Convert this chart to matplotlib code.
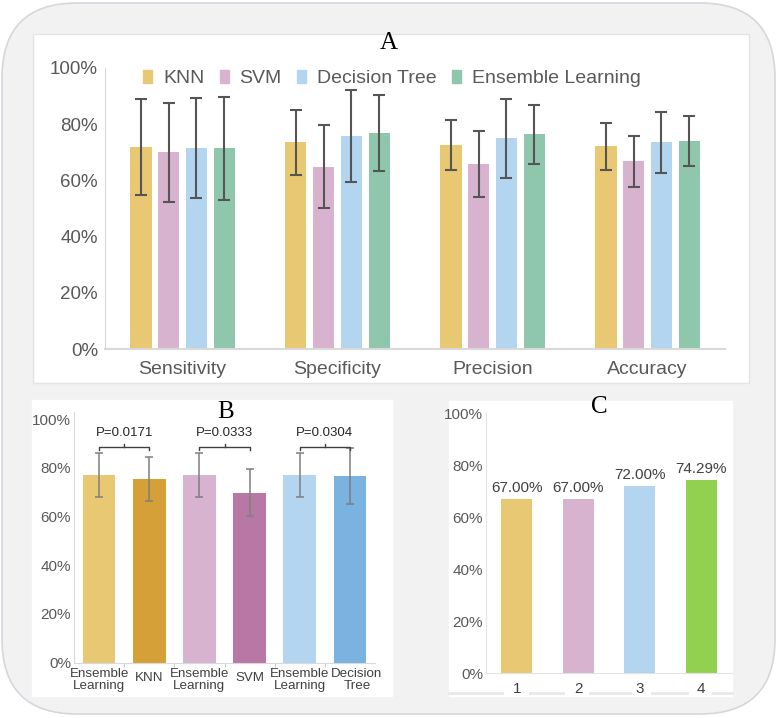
import numpy as np
import matplotlib
matplotlib.use('Agg')
import matplotlib.pyplot as plt
from matplotlib.patches import FancyBboxPatch, Rectangle, Patch
from matplotlib.lines import Line2D
from matplotlib.transforms import IdentityTransform
from matplotlib.ticker import PercentFormatter

W, H = 778, 718

# ---- panel A data ----
metrics = ['Sensitivity', 'Specificity', 'Precision', 'Accuracy']
models = ['KNN', 'SVM', 'Decision Tree', 'Ensemble Learning']
knn_mean = [71.9, 73.5, 72.6, 72.1]
svm_mean = [70.0, 64.9, 65.8, 66.8]
dt_mean = [71.4, 75.9, 75.0, 73.5]
el_mean = [71.4, 76.9, 76.4, 74.0]
knn_err = [17.0, 11.6, 8.8, 8.4]
svm_err = [17.7, 14.7, 11.7, 9.0]
dt_err = [17.8, 16.3, 14.0, 10.9]
el_err = [18.2, 13.6, 10.5, 8.9]

# ---- panel B data ----
b_labels = ['Ensemble\nLearning', 'KNN', 'Ensemble\nLearning', 'SVM', 'Ensemble\nLearning', 'Decision\nTree']
b_mean = [76.9, 75.4, 76.9, 69.8, 76.9, 76.6]
b_err = [9.1, 9.0, 9.1, 9.5, 9.1, 11.5]
p_values = ['P=0.0171', 'P=0.0333', 'P=0.0304']

# ---- panel C data ----
c_labels = ['1', '2', '3', '4']
c_values = [67.00, 67.00, 72.00, 74.29]

col_knn = '#E8C872'
col_svm = '#D8B3CF'
col_dt = '#B3D5F0'
col_el = '#8FC7AD'
tick_col = '#595959'


def fx(px):
    return px / W


def fy(py):
    return 1 - py / H


def axes_rect(left, right, top, bottom):
    return [fx(left), fy(bottom), (right - left) / W, (bottom - top) / H]


fig = plt.figure(figsize=(W / 100, H / 100), dpi=100)
plt.rcParams['font.family'] = ['Liberation Sans', 'DejaVu Sans']

# outer rounded background (pixel coords, origin bottom-left)
bg = FancyBboxPatch((2, 4), W - 5, H - 7, boxstyle='round,pad=0,rounding_size=75',
                    transform=IdentityTransform(), facecolor='#F2F2F2',
                    edgecolor='#D3D8DD', linewidth=1.2, zorder=-3)
fig.patches.append(bg)

# white panel boxes
for (l, t, r, b, ec) in [(33, 34, 749, 383, '#E3E3E3'), (32, 400, 392, 696, 'white'),
                         (449, 401, 732, 696, 'white')]:
    fig.patches.append(Rectangle((fx(l), fy(b)), (r - l) / W, (b - t) / H,
                                 transform=fig.transFigure, facecolor='white',
                                 edgecolor=ec, linewidth=1, zorder=-2))

# ================= Panel A =================
axA = fig.add_axes(axes_rect(105, 725, 68, 349))
axA.patch.set_alpha(0)
x = np.arange(len(metrics))
series = [(knn_mean, knn_err, col_knn), (svm_mean, svm_err, col_svm),
          (dt_mean, dt_err, col_dt), (el_mean, el_err, col_el)]
for i, (m, e, c) in enumerate(series):
    axA.bar(x + (i - 1.5) * 0.18, m, 0.14, yerr=e, color=c, label=models[i],
            error_kw=dict(ecolor='#555555', elinewidth=1.5, capsize=4, capthick=1.5))
axA.set_xlim(-0.5, 3.5)
axA.set_ylim(0, 100)
axA.set_yticks(np.arange(0, 101, 20))
axA.yaxis.set_major_formatter(PercentFormatter(decimals=0))
axA.set_xticks(x)
axA.set_xticklabels(metrics, fontsize=14, color=tick_col)
axA.tick_params(axis='y', labelsize=13.5, labelcolor=tick_col, length=0, pad=5)
axA.tick_params(axis='x', length=0, pad=9)
for s in ['top', 'right']:
    axA.spines[s].set_visible(False)
axA.spines['left'].set_color('#D9D9D9')
axA.spines['bottom'].set_color('#D9D9D9')
axA.spines['bottom'].set_linewidth(1.5)
handles = [Patch(color=c) for _, _, c in series]
leg = axA.legend(handles, models, loc='center', bbox_to_anchor=(0.463, 0.962), ncol=4,
                 frameon=False, fontsize=14, handlelength=0.46, handleheight=0.6,
                 handletextpad=0.55, columnspacing=0.8)
for t in leg.get_texts():
    t.set_color(tick_col)
fig.text(fx(389), fy(43), 'A', family='Liberation Serif', fontsize=18,
         ha='center', va='center', color='black')

# ================= Panel B =================
axB = fig.add_axes(axes_rect(74, 375, 411.7, 662.7))
axB.patch.set_alpha(0)
xb = np.arange(len(b_labels))
b_colors = [col_knn, '#D4A037', col_svm, '#B878A6', col_dt, '#7AB2E0']
axB.bar(xb, b_mean, 0.65, yerr=b_err, color=b_colors,
        error_kw=dict(ecolor='#7F7F7F', elinewidth=1.1, capsize=3, capthick=1.1))
axB.set_xlim(-0.5, 5.5)
axB.set_ylim(0, 103)
axB.set_yticks(np.arange(0, 101, 20))
axB.yaxis.set_major_formatter(PercentFormatter(decimals=0))
axB.set_xticks(xb)
axB.set_xticklabels([''] * len(xb))
# category labels placed by hand: single-line ones sit between the two lines
for k, lab in enumerate(b_labels):
    dx = 5 if k == 5 else 0
    dy = -12.5 if '\n' in lab else -11
    axB.annotate(lab, xy=(xb[k], 0), xycoords=('data', 'axes fraction'),
                 xytext=(dx, dy), textcoords='offset points', ha='center', va='center',
                 fontsize=9.6, color='#404040', linespacing=1.0, annotation_clip=False)
axB.set_xticks(np.arange(0.5, 5, 1), minor=True)
axB.tick_params(axis='x', which='major', length=0, pad=2)
axB.tick_params(axis='x', which='minor', length=3, color='#BFBFBF')
axB.tick_params(axis='y', labelsize=11, labelcolor=tick_col, length=0, pad=2)
for s in ['top', 'right']:
    axB.spines[s].set_visible(False)
axB.spines['left'].set_color('#D9D9D9')
axB.spines['bottom'].set_color('#D9D9D9')
for k in range(3):
    x0, x1 = xb[2 * k], xb[2 * k + 1]
    yb = 88.6
    axB.plot([x0, x0, x1, x1], [yb - 1.2, yb, yb, yb - 1.2], color='#404040', lw=1)
    axB.plot([(x0 + x1) / 2] * 2, [yb, yb + 1.3], color='#404040', lw=1)
    axB.text((x0 + x1) / 2, yb + 3, p_values[k], ha='center', va='bottom',
             fontsize=9.5, color='#262626')
fig.text(fx(226), fy(412), 'B', family='Liberation Serif', fontsize=18,
         ha='center', va='center', color='black')

# ================= Panel C =================
axC = fig.add_axes(axes_rect(486, 732, 413.3, 673.3))
axC.patch.set_alpha(0)
xc = np.arange(1, len(c_labels) + 1)
axC.bar(xc, c_values, 0.5, color=[col_knn, col_svm, col_dt, '#92D050'])
for xi, v in zip(xc, c_values):
    axC.text(xi, v + 1.5, '%.2f%%' % v, ha='center', va='bottom', fontsize=11,
             color='#404040')
axC.set_xlim(0.5, 4.5)
axC.set_ylim(0, 100)
axC.set_yticks(np.arange(0, 101, 20))
axC.yaxis.set_major_formatter(PercentFormatter(decimals=0))
axC.set_xticks(xc)
axC.set_xticklabels(c_labels, fontsize=11, color='#404040')
axC.tick_params(axis='x', length=0, pad=6)
axC.tick_params(axis='y', labelsize=11, labelcolor=tick_col, length=0, pad=2)
for s in ['top', 'right']:
    axC.spines[s].set_visible(False)
axC.spines['left'].set_color('#E3E3E3')
axC.spines['bottom'].set_color('#E3E3E3')
# faint strip under the tick labels
for (a, b) in [(449, 502), (530, 563), (590, 630), (652, 687), (713, 732)]:
    fig.add_artist(Line2D([fx(a), fx(b)], [fy(693), fy(693)], color='#E8E8E8', lw=2))
fig.text(fx(599), fy(407), 'C', family='Liberation Serif', fontsize=18,
         ha='center', va='center', color='black')

fig.savefig('out.png', dpi=100)
